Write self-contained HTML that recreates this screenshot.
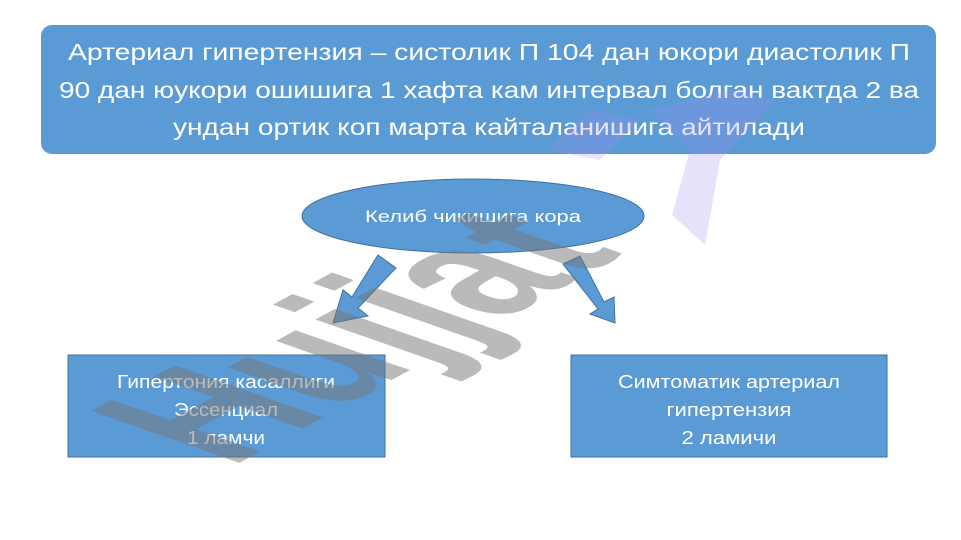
<!DOCTYPE html>
<html><head><meta charset="utf-8"><style>
html,body{margin:0;padding:0;background:#fff;}
svg{display:block;}
</style></head><body>
<svg width="961" height="540" viewBox="0 0 961 540" xmlns="http://www.w3.org/2000/svg" font-family="'Liberation Sans', sans-serif">
<rect x="41" y="25" width="895" height="129" rx="11" fill="#5b9bd5"/>
<g fill="#fff" font-size="23" text-anchor="middle">
<text x="489" y="60" textLength="842" lengthAdjust="spacingAndGlyphs">Артериал гипертензия – систолик П 104 дан юкори диастолик П</text>
<text x="489" y="98" textLength="860" lengthAdjust="spacingAndGlyphs">90 дан юукори ошишига 1 хафта кам интервал болган вактда 2 ва</text>
<text x="489" y="135" textLength="632" lengthAdjust="spacingAndGlyphs">ундан ортик коп марта кайталанишига айтилади</text>
</g>
<ellipse cx="473" cy="216" rx="171" ry="37" fill="#5b9bd5" stroke="#41719c" stroke-width="1"/>
<text x="473" y="222" fill="#fff" font-size="17" text-anchor="middle" textLength="216" lengthAdjust="spacingAndGlyphs">Келиб чикишига кора</text>
<polygon points="378,255 396,268 358,308 368,316 333,323 343,290 352,297" fill="#5b9bd5" stroke="#41719c" stroke-width="1"/>
<polygon points="563,264 580,256 604,302 614,297 615,323 590,314 598,309" fill="#5b9bd5" stroke="#41719c" stroke-width="1"/>
<rect x="68" y="355" width="317" height="102" fill="#5b9bd5" stroke="#41719c" stroke-width="1"/>
<rect x="571" y="355" width="316" height="102" fill="#5b9bd5" stroke="#41719c" stroke-width="1"/>
<g fill="#fff" font-size="18" text-anchor="middle">
<text x="226" y="388" textLength="218" lengthAdjust="spacingAndGlyphs">Гипертония касаллиги</text>
<text x="226" y="416" textLength="104" lengthAdjust="spacingAndGlyphs">Эссенциал</text>
<text x="226" y="444" textLength="78" lengthAdjust="spacingAndGlyphs">1 ламчи</text>
<text x="729" y="388" textLength="222" lengthAdjust="spacingAndGlyphs">Симтоматик артериал</text>
<text x="729" y="416" textLength="125" lengthAdjust="spacingAndGlyphs">гипертензия</text>
<text x="729" y="444" textLength="95" lengthAdjust="spacingAndGlyphs">2 ламичи</text>
</g>
<g fill="#a58cf5" opacity="0.25">
<polygon points="548,150 590,110 640,120 600,160"/>
<polygon points="650,110 730,90 775,100 720,160 705,245 672,215 690,150"/>
</g>
<g opacity="0.5" fill="#777">
<text transform="matrix(0.79,-0.43,1.2,0.42,230,468)" font-size="180" font-weight="bold">Hujjat</text>
</g>
</svg>
</body></html>
